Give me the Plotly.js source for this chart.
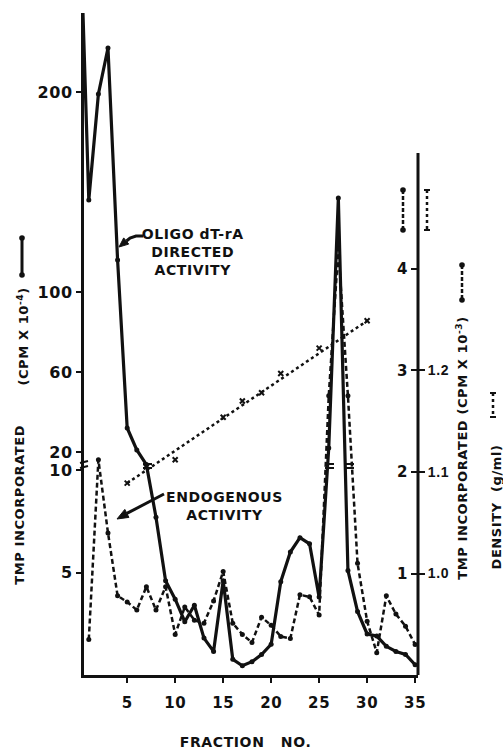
<!DOCTYPE html>
<html><head><meta charset="utf-8">
<script src="https://cdn.plot.ly/plotly-3.0.1.min.js"></script>
<style>
html,body{margin:0;padding:0;background:#fff;}
#chart{width:503px;height:749px;}
.main-svg text{letter-spacing:0.6px;}
</style>
</head><body><div id="chart"></div>
<script>
// ---- data ----
const fractionsOligo = [0,1,2,3,4,5,6,7,8,9,10,11,12,13,14,15,16,17,18,19,20,21,22,23,24,25,26,27,28,29,30,31,32,33,34,35];
const oligoActivity  = [300,146,199,222,116,32,21,13,7.7,4.6,3.7,2.6,3.4,1.8,1.15,4.6,0.77,0.45,0.65,1.0,1.5,4.55,6.0,6.7,6.4,3.8,22,147,5.1,3.1,2.0,1.9,1.4,1.15,1.0,0.5]; // CPM x 10^-4
const fractionsEndo  = [1,2,3,4,5,6,7,8,9,10,11,12,13,14,15,16,17,18,19,20,21,22,23,24,25,26,27,28,29,30,31,32,33,34,35];
const endoActivity   = [0.35,2.12,1.40,0.78,0.72,0.64,0.87,0.64,0.87,0.40,0.67,0.54,0.51,0.73,1.02,0.51,0.40,0.32,0.57,0.49,0.38,0.36,0.79,0.77,0.59,2.75,4.2,2.75,1.10,0.53,0.22,0.78,0.60,0.48,0.30]; // CPM x 10^-3
const densityFractions = [5,7,10,15,17,19,21,25,30];
const densityValues    = [1.089,1.105,1.112,1.154,1.170,1.178,1.197,1.222,1.249]; // g/ml
const densityFitFractions = [5,30];
const densityFitValues    = [1.089,1.249];
const xTickValues = [5,10,15,20,25,30,35];
const leftTickValues = [5,10,20,60,100,200];
const rightTickValues = [1,2,3,4];
const densityTickValues = [1.0,1.1,1.2];
const densityTickText = ['1.0','1.1','1.2'];

// broken left axis: linear 0-10, short break, then compressed linear 20+
function brk(v){
  if (v <= 10) return v;
  if (v < 20) return 10 + (v-10)*0.0878;
  return 10.878 + (v-20)*0.09756;
}

// layout helpers (pixel -> paper)
const ML=84, MR=85, MT=13, MB=74, W=503, H=749;
const PW=W-ML-MR, PH=H-MT-MB;
const PX = X => (X-ML)/PW;
const PY = Y => (H-MB-Y)/PH;

const FONT = 'DejaVu Sans';
const BK = '#111';

const traces = [
  {x: fractionsOligo, y: oligoActivity.map(brk), xaxis:'x', yaxis:'y', type:'scatter', mode:'lines+markers',
   line:{color:BK, width:3.2}, marker:{color:BK, size:5}, hoverinfo:'skip'},
  {x: fractionsEndo, y: endoActivity, xaxis:'x', yaxis:'y2', type:'scatter', mode:'lines+markers',
   line:{color:BK, width:2.5, dash:'5px,3px'}, marker:{color:BK, size:5}, hoverinfo:'skip'},
  {x: densityFitFractions, y: densityFitValues, xaxis:'x', yaxis:'y3', type:'scatter', mode:'lines',
   line:{color:BK, width:2.5, dash:'dot'}, hoverinfo:'skip'},
  {x: densityFractions, y: densityValues, xaxis:'x', yaxis:'y3', type:'scatter', mode:'markers',
   marker:{color:BK, size:5, symbol:'x-thin-open', line:{width:2, color:BK}}, hoverinfo:'skip'}
];

const shapes = [];
function seg(x0,y0,x1,y1,w,dash){ shapes.push({type:'line', xref:'paper', yref:'paper', x0:PX(x0), y0:PY(y0), x1:PX(x1), y1:PY(y1), line:{color:BK, width:w, dash:dash||'solid'}}); }
function dot(x,y,r){ shapes.push({type:'circle', xref:'paper', yref:'paper', x0:PX(x-r), x1:PX(x+r), y0:PY(y+r), y1:PY(y-r), fillcolor:BK, line:{color:BK, width:0}}); }
function poly(pts,close,w){ const d = pts.map((p,i)=>(i?'L':'M')+PX(p[0])+','+PY(p[1])).join(' ')+(close?' Z':'');
  shapes.push({type:'path', xref:'paper', yref:'paper', path:d, fillcolor: close?BK:'rgba(0,0,0,0)', line:{color:BK, width:w}}); }
// right axis line (shorter than left)
seg(418,153,418,675,3);
// axis-break marks on left axis and where the curves cross the break
seg(80,463,88,461,2); seg(80,468,88,466,2);
seg(143,464,152,464,2); seg(143,468,152,468,2);
seg(325,464,334,464,2); seg(325,468,334,468,2);
seg(345,464,354,464,2); seg(345,468,354,468,2);
// legend glyphs
seg(22,238,22,275,3); dot(22,238,2.8); dot(22,275,2.8);
seg(403,190,403,230,2.5,'4px,2px'); dot(403,190,2.8); dot(403,230,2.8);
seg(427,190,427,230,2.5,'dot'); seg(424,190,430,190,2); seg(424,230,430,230,2);
seg(462,265,462,300,2.5,'4px,2px'); dot(462,265,2.8); dot(462,300,2.8);
seg(493,393,493,417,2.5,'dot'); seg(490,393,496,393,2); seg(490,417,496,417,2);
// pointer arrows
poly([[143,236],[136,236],[130,238],[126.5,241]], false, 3);
poly([[119,247],[128.7,244.1],[123.7,237.9]], true, 1);
poly([[164,494],[126.9,513.4]], false, 3);
poly([[117,519],[128.9,517.4],[124.8,509.4]], true, 1);

const tf = (s)=>({family:FONT, size:s, color:BK, weight:'bold'});
const annotations = [
  {xref:'paper', yref:'paper', x:PX(19), y:PY(505), text:'TMP INCORPORATED', textangle:-90, showarrow:false, font:tf(13), xanchor:'center', yanchor:'middle'},
  {xref:'paper', yref:'paper', x:PX(23), y:PY(337), text:'(CPM X 10<sup>-4</sup>)', textangle:-90, showarrow:false, font:tf(13), xanchor:'center', yanchor:'middle'},
  {xref:'paper', yref:'paper', x:PX(462), y:PY(448), text:'TMP INCORPORATED (CPM X 10<sup>-3</sup>)', textangle:-90, showarrow:false, font:tf(13), xanchor:'center', yanchor:'middle'},
  {xref:'paper', yref:'paper', x:PX(496), y:PY(507), text:'DENSITY  (g/ml)', textangle:-90, showarrow:false, font:tf(13), xanchor:'center', yanchor:'middle'},
  {xref:'paper', yref:'paper', x:PX(245), y:PY(742), text:'FRACTION   NO.', showarrow:false, font:tf(14), xanchor:'center', yanchor:'middle'},
  {xref:'paper', yref:'paper', x:PX(193), y:PY(252), text:'OLIGO dT-rA<br>DIRECTED<br>ACTIVITY', showarrow:false, font:tf(14), xanchor:'center', yanchor:'middle', align:'center'},
  {xref:'paper', yref:'paper', x:PX(224), y:PY(506), text:'ENDOGENOUS<br>ACTIVITY', showarrow:false, font:tf(14), xanchor:'center', yanchor:'middle', align:'center'}
];

const layout = {
  width:W, height:H, margin:{l:ML, r:MR, t:MT, b:MB, pad:0},
  paper_bgcolor:'#fff', plot_bgcolor:'rgba(0,0,0,0)', showlegend:false,
  xaxis:{range:[0.5,35.3], tickvals:xTickValues, ticks:'outside', ticklen:5, tickwidth:2, tickcolor:BK, ticklabelstandoff:7,
         showline:true, linewidth:3, linecolor:BK, showgrid:false, zeroline:false, tickfont:tf(15)},
  yaxis:{range:[0,32.293], tickvals:leftTickValues.map(brk), ticktext:leftTickValues.map(String), ticks:'outside', ticklen:5, tickwidth:2, tickcolor:BK,
         showline:true, linewidth:3, linecolor:BK, showgrid:false, zeroline:false, tickfont:tf(16)},
  yaxis2:{overlaying:'y', side:'left', anchor:'free', position:1, range:[0,6.522], tickvals:rightTickValues, ticks:'outside', ticklen:7, tickwidth:2, tickcolor:BK,
          showline:false, showgrid:false, zeroline:false, tickfont:tf(15)},
  yaxis3:{overlaying:'y', side:'right', range:[0.9,1.5522], tickvals:densityTickValues, ticktext:densityTickText, ticks:'outside', ticklen:6, tickwidth:2, tickcolor:BK,
          showline:false, showgrid:false, zeroline:false, tickfont:{family:'Liberation Sans', size:14, color:BK, weight:'bold'}},
  shapes:shapes, annotations:annotations
};
Plotly.newPlot('chart', traces, layout, {staticPlot:true, displayModeBar:false});
</script>
</body></html>
